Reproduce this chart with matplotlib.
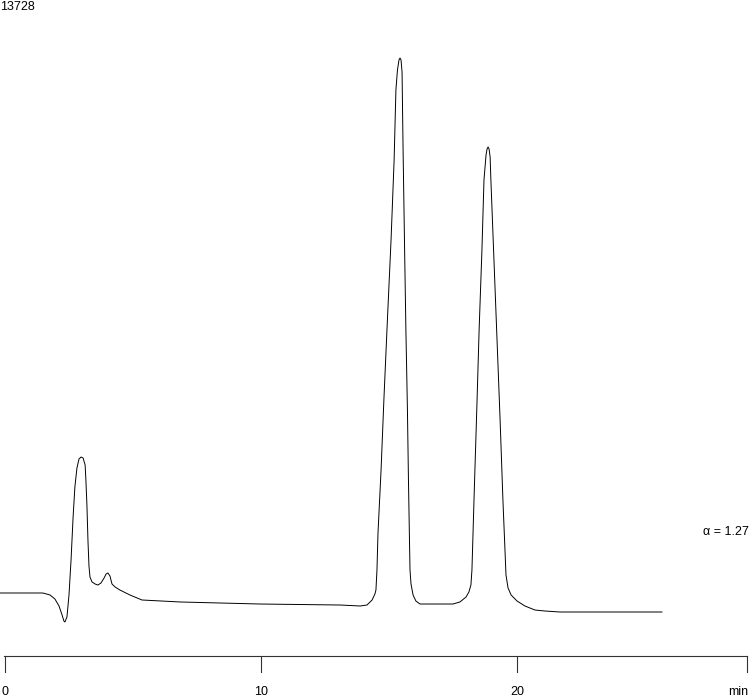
import matplotlib
matplotlib.use("Agg")
import matplotlib.pyplot as plt

plt.rcParams["font.family"] = ["Liberation Sans", "DejaVu Sans"]

# trace (time in min, signal)
tempo = [-0.20, 1.48, 1.76, 1.95, 2.11, 2.23, 2.30, 2.34, 2.42, 2.50, 2.58, 2.66,
         2.73, 2.81, 2.89, 2.97, 3.05, 3.13, 3.16, 3.20, 3.24, 3.28, 3.32, 3.40,
         3.52, 3.63, 3.75, 3.87, 3.95, 4.02, 4.10, 4.18, 4.30, 4.49, 4.88, 5.35,
         6.84, 9.96, 13.09, 13.87, 14.14, 14.34, 14.45,
         14.49, 14.53, 14.57, 14.69, 14.80, 14.92, 15.08, 15.20, 15.27, 15.33,
         15.39, 15.43, 15.47, 15.51, 15.55, 15.61, 15.66, 15.72, 15.76, 15.80,
         15.82, 15.86, 15.94, 16.05, 16.21, 16.60, 17.50, 17.77,
         18.01, 18.12, 18.20, 18.24, 18.32, 18.44, 18.52, 18.63, 18.71, 18.79,
         18.83, 18.87, 18.91, 18.95, 18.98, 19.10, 19.22, 19.34, 19.45, 19.53,
         19.57, 19.65, 19.77, 20.00, 20.31, 20.70, 21.09, 21.68, 23.24, 25.66]
sinal = [0, 0, -46, -139, -301, -509, -648, -671, -556, -46, 764, 1759,
         2454, 2894, 3102, 3148, 3125, 2963, 2616, 2037, 1227, 625, 370, 255,
         208, 185, 232, 347, 440, 463, 394, 208, 139, 69, -46, -162,
         -208, -255, -278, -301, -278, -162, -23,
         69, 532, 1389, 2847, 4468, 6088, 8172, 10024, 11644, 12107,
         12339, 12385, 12339, 12061, 10255, 7940, 6088, 4236, 2616, 1227,
         532, 208, -46, -185, -255, -255, -255, -208,
         -93, 23, 185, 532, 2153, 4468, 6088, 7940, 9561, 10140,
         10279, 10325, 10279, 10093, 9561, 7709, 5857, 4005, 2153, 1000,
         417, 116, -46, -185, -301, -394, -417, -440, -440, -440]

ticks = [0, 10, 20]
tick_labels = ["0", "10", "20"]
t_fim = 28.98
y_max = 13728
alfa = 1.27

fig = plt.figure(figsize=(7.5, 6.99), dpi=100)
ax = fig.add_axes([0, 0, 1, 1])
ax.set_xlim(-5 / 25.6, 745 / 25.6)
ax.set_ylim((593 - 699) * 23.15, 593 * 23.15)
ax.axis("off")

ax.plot(tempo, sinal, color="black", lw=0.7)

# eixo do tempo
y_eixo = -1458
y_tick = -1829
ax.plot([-0.04, t_fim], [y_eixo, y_eixo], color="#333333", lw=0.8)
for t, lab in zip(ticks, tick_labels):
    ax.plot([t, t], [y_eixo, y_tick], color="#333333", lw=0.8)
    ax.text(t, -2292, lab, ha="center", va="center", fontsize=9)
ax.plot([t_fim, t_fim], [y_eixo, y_tick], color="#333333", lw=0.8)
ax.text(t_fim + 0.05, -2292, "min", ha="right", va="center", fontsize=9)

ax.text(0.0, 1 - 7 / 699, str(y_max), transform=ax.transAxes, ha="left", va="center", fontsize=9)
ax.text(0.998, 1 - 532 / 699, "\u03b1 = %.2f" % alfa, transform=ax.transAxes,
        ha="right", va="center", fontsize=9)

plt.savefig("out.png", dpi=100)
plt.close()
